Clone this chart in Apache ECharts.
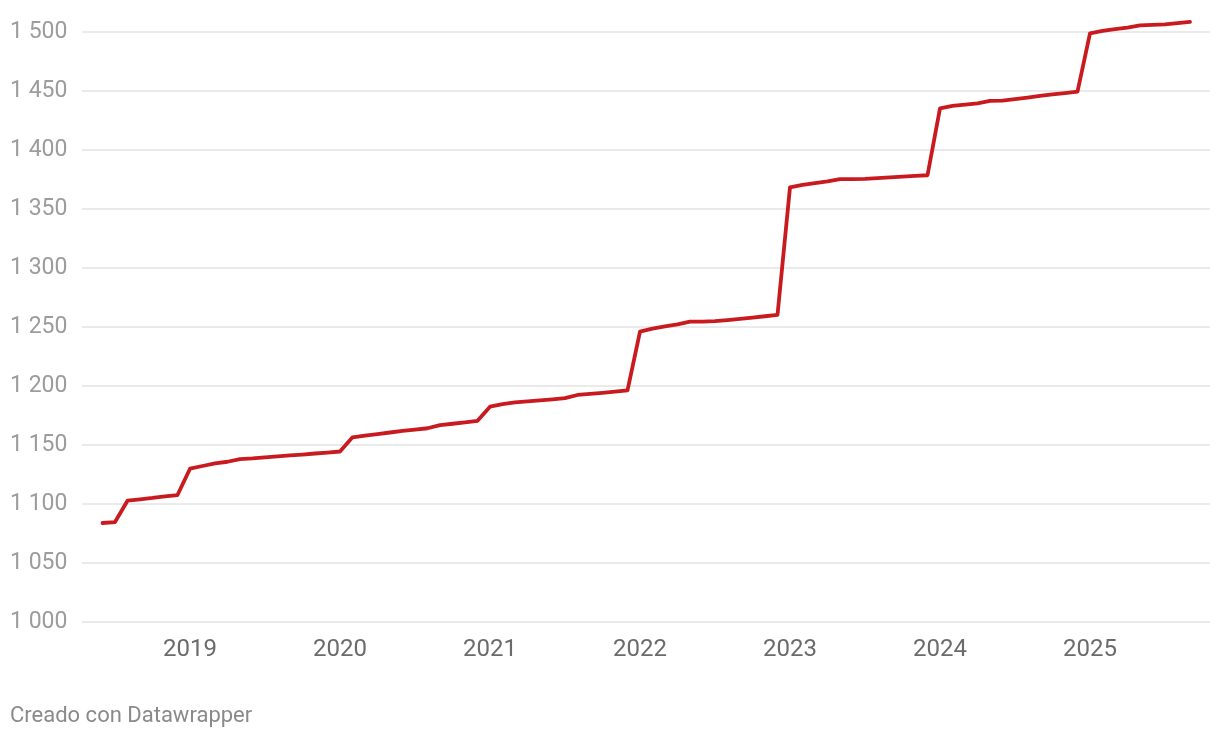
<!DOCTYPE html>
<html>
<head>
<meta charset="utf-8">
<script src="https://cdn.jsdelivr.net/npm/echarts@6/dist/echarts.min.js"></script>
<style>
html,body{margin:0;padding:0;background:#fff;}
#chart{width:1220px;height:738px;}
</style>
</head>
<body>
<div id="chart"></div>
<script>
// Monthly data (YYYY-MM)
const months = [
  '2018-06','2018-07','2018-08','2018-09','2018-10','2018-11','2018-12',
  '2019-01','2019-02','2019-03','2019-04','2019-05','2019-06','2019-07','2019-08','2019-09','2019-10','2019-11','2019-12',
  '2020-01','2020-02','2020-03','2020-04','2020-05','2020-06','2020-07','2020-08','2020-09','2020-10','2020-11','2020-12',
  '2021-01','2021-02','2021-03','2021-04','2021-05','2021-06','2021-07','2021-08','2021-09','2021-10','2021-11','2021-12',
  '2022-01','2022-02','2022-03','2022-04','2022-05','2022-06','2022-07','2022-08','2022-09','2022-10','2022-11','2022-12',
  '2023-01','2023-02','2023-03','2023-04','2023-05','2023-06','2023-07','2023-08','2023-09','2023-10','2023-11','2023-12',
  '2024-01','2024-02','2024-03','2024-04','2024-05','2024-06','2024-07','2024-08','2024-09','2024-10','2024-11','2024-12',
  '2025-01','2025-02','2025-03','2025-04','2025-05','2025-06','2025-07','2025-08','2025-09'
];
const values = [
  1083.9,1084.7,1102.8,1104.0,1105.1,1106.5,1107.6,
  1129.9,1132.2,1134.5,1135.8,1138.1,1138.6,1139.5,1140.3,1141.2,1141.9,1142.8,1143.6,
  1144.5,1156.5,1158.0,1159.3,1160.6,1161.9,1163.0,1164.2,1166.9,1168.0,1169.2,1170.5,
  1182.5,1184.6,1186.1,1187.0,1187.9,1188.7,1189.7,1192.4,1193.3,1194.2,1195.2,1196.3,
  1246.0,1248.6,1250.6,1252.2,1254.5,1254.6,1254.9,1255.8,1256.9,1258.0,1259.1,1260.3,
  1368.4,1370.5,1372.0,1373.4,1375.3,1375.4,1375.6,1376.1,1376.8,1377.4,1378.0,1378.6,
  1435.3,1437.4,1438.5,1439.6,1441.7,1441.9,1443.1,1444.4,1445.8,1447.1,1448.2,1449.4,
  1498.9,1501.0,1502.5,1503.8,1505.6,1506.0,1506.5,1507.6,1508.6
];
const yearLabels = ['2019','2020','2021','2022','2023','2024','2025'];
const yTicks = [1000,1050,1100,1150,1200,1250,1300,1350,1400,1450,1500];
const footer = 'Creado con Datawrapper';

const baseYear = 2019;
function monthIndex(s){ const p = s.split('-'); return (parseInt(p[0])-baseYear)*12 + (parseInt(p[1])-1); }
const seriesData = months.map((m,i)=>[monthIndex(m), values[i]]);
const yearPositions = yearLabels.map(y => monthIndex(y + '-01'));

const chart = echarts.init(document.getElementById('chart'), null, {renderer:'canvas'});
chart.setOption({
  animation:false,
  backgroundColor:'#ffffff',
  textStyle:{fontFamily:'Roboto'},
  grid:{left:82,right:10,top:32,bottom:116,containLabel:false},
  xAxis:{
    type:'value',
    min:-8.64, max:81.6,
    axisLine:{show:false}, axisTick:{show:false}, splitLine:{show:false},
    axisLabel:{
      customValues: yearPositions,
      formatter: v => { const i = yearPositions.indexOf(v); return i>=0 ? yearLabels[i] : ''; },
      color:'#6b6b6b', fontSize:24, fontFamily:'Roboto', margin:16
    }
  },
  yAxis:{
    type:'value',
    min:yTicks[0], max:yTicks[yTicks.length-1], interval:50,
    axisLine:{show:false}, axisTick:{show:false},
    splitLine:{lineStyle:{color:'#e3e3e3', width:1.5}},
    axisLabel:{
      formatter: v => { const s = String(v); return s.length>3 ? s.slice(0,s.length-3)+' '+s.slice(-3) : s; },
      color:'#9c9c9c', fontSize:23, fontFamily:'Roboto', align:'left', margin:72
    }
  },
  series:[{
    type:'line',
    data:seriesData,
    showSymbol:false,
    clip:false,
    lineStyle:{color:'#c91b1f', width:3.8, join:'round', cap:'round'},
    itemStyle:{color:'#c91b1f'}
  }],
  graphic:[{
    type:'text', left:10, top:705,
    style:{text:footer, fill:'#8a8a8a', fontSize:22, fontFamily:'Roboto'}
  }]
});
</script>
</body>
</html>
